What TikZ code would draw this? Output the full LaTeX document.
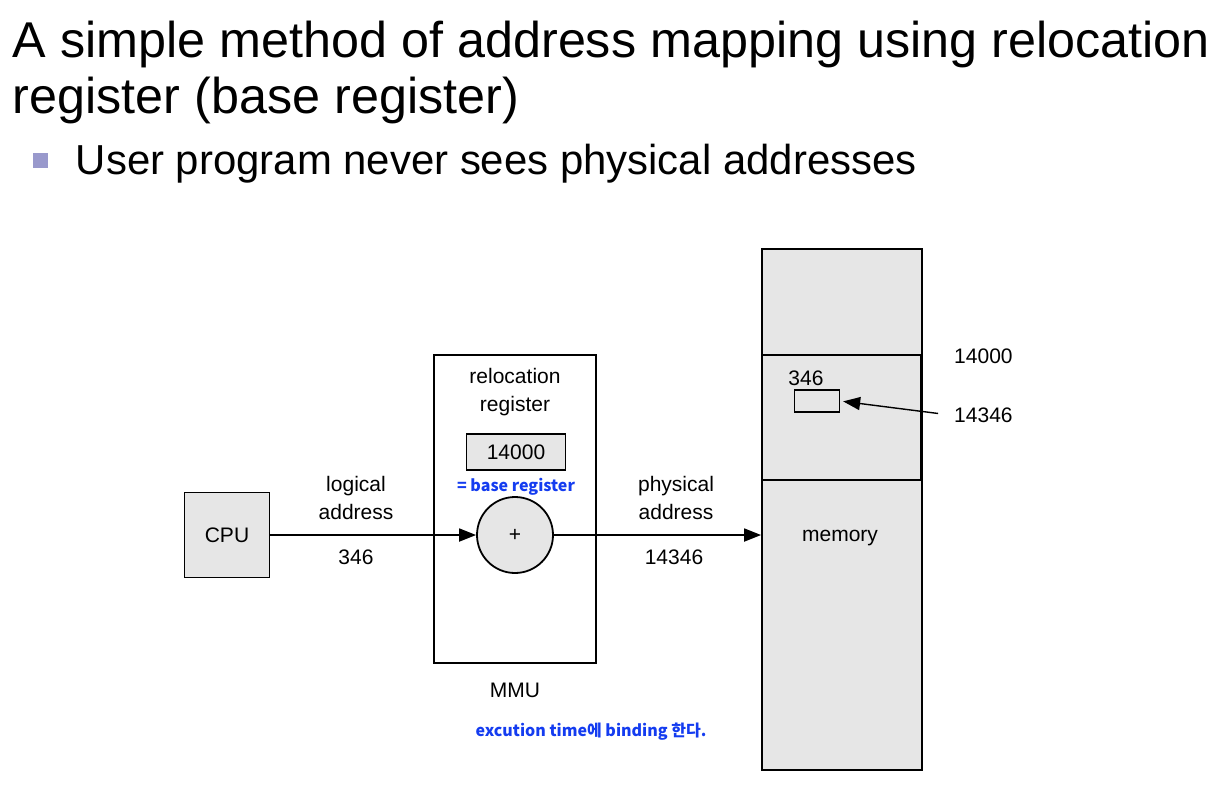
\documentclass[tikz,border=0pt]{standalone}
\usepackage{fontspec}
\setmainfont{Liberation Sans}
\newfontfamily\krfont{Noto Sans CJK KR}
\usepackage{tikz}
\usetikzlibrary{arrows.meta}
\definecolor{boxgray}{RGB}{230,230,230}
\definecolor{noteblue}{RGB}{20,60,240}
\definecolor{bulletblue}{RGB}{153,153,204}

\begin{document}
\begin{tikzpicture}[x=1pt, y=-1pt, line width=1.8pt, font=\fontsize{21}{28}\selectfont,
    >={Triangle[length=17pt, width=13pt]}]
    \useasboundingbox (0,0) rectangle (1228,784);

    % heading
    \node[anchor=base west, inner sep=0pt, font=\fontsize{50.3}{58}\selectfont]  (T1)  at (12, 57)   {A simple method of address mapping using relocation};
    \node[anchor=base west, inner sep=0pt, font=\fontsize{50.3}{58}\selectfont]  (T2)  at (12, 113)  {register (base register)};
    \node[fill=bulletblue, minimum size=15pt, inner sep=0pt]                     (B)   at (40, 160)  {};
    \node[anchor=base west, inner sep=0pt, font=\fontsize{41.9}{48}\selectfont]  (S)   at (75, 174)  {User program never sees physical addresses};

    % CPU and MMU
    \node[draw, fill=boxgray, minimum width=85pt, minimum height=85pt]   (CPU)  at (227, 535)  {CPU};
    \node[draw, minimum width=162pt, minimum height=308pt]               (MMU)  at (515, 509)  {};
    \node[align=center]                                                  (RL)   at (515, 392)  {relocation \\ register};
    \node[draw, fill=boxgray, minimum width=99pt, minimum height=36pt]   (R)    at (516, 452)  {14000};
    \node[text=noteblue, font=\krfont\bfseries\fontsize{16}{19}\selectfont] (BR) at (516, 487) {= base register};
    \node[draw, circle, fill=boxgray, minimum size=76pt]                 (ADD)  at (515, 535)  {+};
    \node                                                                (MMUL) at (515, 690)  {MMU};

    % memory
    \node[draw, fill=boxgray, minimum width=160pt, minimum height=521pt] (MEM)  at (842, 509.5) {};
    \node[draw, line width=2.2pt, minimum width=159pt, minimum height=125pt] (SEG) at (841.5, 417.5) {};
    \node                                                                (MEML) at (840, 538)  {memory};
    \node                                                                (OFS)  at (806, 378)  {346};
    \node[draw, line width=1.3pt, minimum width=45pt, minimum height=22pt] (CELL) at (817, 401) {};
    \node[anchor=west]                                                   (BASE) at (950, 356)  {14000};
    \node[anchor=west]                                                   (PHYS) at (950, 415)  {14346};

    % labels on the arrows
    \node[align=center]  (LA)  at (356, 498)  {logical \\ address};
    \node                (LV)  at (356, 557)  {346};
    \node[align=center]  (PA)  at (676, 498)  {physical \\ address};
    \node                (PV)  at (674, 557)  {14346};

    \node[text=noteblue, font=\krfont\bfseries\fontsize{16}{19}\selectfont] (NOTE) at (591, 732) {excution time에 binding 한다.};

    \draw[->] (CPU) -- (ADD);
    \draw[->] (ADD) -- (ADD -| MEM.west);
    \draw[->, line width=1.4pt, shorten <=12pt, shorten >=3pt] (PHYS.west) -- (CELL.east);
\end{tikzpicture}
\end{document}
